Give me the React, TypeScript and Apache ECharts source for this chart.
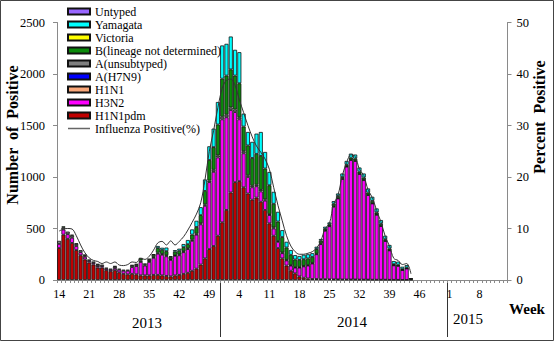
import React, { useEffect, useRef } from "react";
import * as echarts from "echarts";

// Week categories: 2013 wk14 .. 2015 wk14
const weeks: string[] = [
  "14","15","16","17","18","19","20","21","22","23","24","25","26","27","28","29","30","31","32","33","34","35","36","37","38","39","40","41","42","43","44","45","46","47","48","49","50","51","52",
  "1","2","3","4","5","6","7","8","9","10","11","12","13","14","15","16","17","18","19","20","21","22","23","24","25","26","27","28","29","30","31","32","33","34","35","36","37","38","39","40","41","42","43","44","45","46","47","48","49","50","51","52",
  "1","2","3","4","5","6","7","8","9","10","11","12","13","14",
];

const h1n1pdm = [310,440,400,360,290,240,200,170,150,120,120,95,85,95,75,60,55,60,55,45,45,45,50,50,45,40,35,45,50,60,70,90,110,150,210,300,330,430,560,680,850,950,960,900,840,780,800,760,680,550,430,310,210,140,90,65,35,22,15,10,10,8,8,7,6,6,5,5,5,5,4,4,4,3,3,3,3,2,2,2,1,1,0];
const h3n2 = [40,50,45,50,40,30,25,15,15,15,15,15,15,20,25,30,35,65,80,130,95,130,165,205,200,190,160,190,190,210,230,290,330,390,510,650,720,760,1000,900,800,680,600,330,160,120,110,100,90,80,70,60,50,50,50,55,85,110,125,150,240,340,470,515,705,785,975,1095,1160,1150,1025,965,820,740,630,520,375,285,140,135,95,110,3];
const h1n1: number[] = [];
const h7n9: number[] = [];
const aUnsub = [30,20,25,20,20,20,15,15,15,15,15,10,10,15,10,10,10,15,15,15,10,10,10,10,8,10,7,5,9,9,8,11,10,10,15,15,20,20,25,25,25,25,20,20,17,15,15,15,13,10,10,8,7,6,5,5,5,5,5,5,5,5,4,4,5,4,4,3,3,3,3,3,3,3,3,3,3,3,2,2,2,2,0];
const bLineage = [0,10,0,10,5,0,5,0,0,5,0,0,0,5,0,0,0,5,5,25,10,15,20,45,40,40,20,35,35,40,40,50,65,80,130,200,220,300,370,380,370,330,330,240,290,270,300,330,300,280,230,190,150,120,100,75,70,65,65,60,45,30,15,15,25,20,15,15,20,20,20,22,22,22,20,20,15,15,10,10,8,8,10];
const victoria: number[] = [];
const yamagata = [0,0,0,0,0,0,0,0,0,0,0,0,0,0,0,0,0,0,0,0,0,5,5,20,20,35,10,15,20,30,40,50,60,77,111,133,180,218,322,308,319,250,302,125,130,156,196,232,160,129,116,94,67,55,46,42,38,43,40,35,23,15,20,18,25,25,35,38,39,40,40,40,40,40,39,36,34,35,30,29,23,24,3];
const untyped: number[] = [];
const percentPositive = [9.5,9.9,10.0,9.9,8.6,6.8,5.3,4.3,3.8,3.6,3.2,3.5,3.2,3.5,2.9,2.8,3.0,3.5,3.4,4.2,4.0,4.6,5.8,7.2,7.5,6.8,7.6,6.8,7.5,8.4,9.7,11.2,12.8,15.0,19.5,25.0,29.0,33.5,37.2,38.8,39.0,37.8,35.0,32.5,30.0,27.8,26.0,24.8,23.5,21.5,18.0,14.5,11.5,8.6,6.6,5.5,5.0,5.0,5.2,5.5,6.2,7.6,10.0,11.0,14.8,16.5,20.3,22.8,24.3,24.0,21.5,20.3,17.5,16.0,13.5,11.3,8.5,6.6,4.2,3.8,3.0,3.2,1.2];

const yTicksLeft = { min: 0, max: 2500, interval: 500 };
const yTicksRight = { min: 0, max: 50, interval: 10 };
const years = ["2013", "2014", "2015"];

const FONT = "'Liberation Serif', 'Times New Roman', serif";

const barSeries = [
  { name: "H1N1pdm", data: h1n1pdm, color: "#c00000" },
  { name: "H3N2", data: h3n2, color: "#ff00ff" },
  { name: "H1N1", data: h1n1, color: "#f9a77a" },
  { name: "A(H7N9)", data: h7n9, color: "#0000ff" },
  { name: "A(unsubtyped)", data: aUnsub, color: "#808080" },
  { name: "B(lineage not determined)", data: bLineage, color: "#0a8a0a" },
  { name: "Victoria", data: victoria, color: "#ffff00" },
  { name: "Yamagata", data: yamagata, color: "#00ffff" },
  { name: "Untyped", data: untyped, color: "#9966ff" },
];
const lineName = "Influenza Positive(%)";
const legendOrder = ["Untyped", "Yamagata", "Victoria", "B(lineage not determined)", "A(unsubtyped)", "A(H7N9)", "H1N1", "H3N2", "H1N1pdm", lineName];

export default function App() {
  const ref = useRef<HTMLDivElement>(null);
  useEffect(() => {
    const chart = echarts.init(ref.current!, null, { renderer: "svg" });
    const axisGray = "#8a8a8a";
    chart.setOption({
      animation: false,
      backgroundColor: "#fff",
      grid: { left: 57, right: 46.5, top: 22.5, bottom: 62, containLabel: false },
      legend: {
        orient: "vertical",
        left: 67,
        top: 5,
        padding: 0,
        itemGap: 0,
        itemWidth: 22,
        itemHeight: 6,
        selectedMode: false,
        textStyle: { fontFamily: FONT, fontSize: 12, color: "#000", lineHeight: 13 },
        data: legendOrder.map((n) =>
          n === lineName
            ? { name: n, itemStyle: { color: "rgba(0,0,0,0)", borderColor: "rgba(0,0,0,0)", borderWidth: 0 }, lineStyle: { color: "#666", width: 1.5 } }
            : { name: n, icon: "rect" }
        ),
      },
      xAxis: {
        type: "category",
        data: weeks,
        boundaryGap: true,
        axisLine: { show: true, lineStyle: { color: axisGray } },
        axisTick: { show: true, interval: 0, length: 3, lineStyle: { color: axisGray } },
        axisLabel: { interval: 6, fontFamily: FONT, fontSize: 12, color: "#000", margin: 8 },
        splitLine: { show: false },
      },
      yAxis: [
        {
          type: "value",
          ...yTicksLeft,
          axisLine: { show: true, lineStyle: { color: axisGray } },
          axisTick: { show: true, length: 4, lineStyle: { color: axisGray } },
          axisLabel: { fontFamily: FONT, fontSize: 12.5, color: "#000", margin: 12, formatter: (v: number) => String(v) },
          splitLine: { show: false },
        },
        {
          type: "value",
          position: "right",
          ...yTicksRight,
          axisLine: { show: true, lineStyle: { color: axisGray } },
          axisTick: { show: true, length: 4, lineStyle: { color: axisGray } },
          axisLabel: { fontFamily: FONT, fontSize: 12.5, color: "#000", margin: 9, formatter: (v: number) => String(v) },
          splitLine: { show: false },
        },
      ],
      series: [
        ...barSeries.map((s) => ({
          name: s.name,
          type: "bar",
          stack: "flu",
          barCategoryGap: "6%",
          data: s.data.map((v) => (v === 0 ? null : v)),
          itemStyle: { color: s.color, borderColor: "#111", borderWidth: 0.8 },
        })),
        {
          name: lineName,
          type: "line",
          yAxisIndex: 1,
          data: percentPositive,
          symbol: "none",
          smooth: 0.35,
          z: 10,
          itemStyle: { color: "#555" },
          lineStyle: { color: "#333", width: 1 },
        },
      ],
    });

    const xp = (i: number) => chart.convertToPixel({ xAxisIndex: 0 }, i) as number;
    const catW = xp(1) - xp(0);
    const yBase = chart.convertToPixel({ yAxisIndex: 0 }, 0) as number;
    const d2014 = xp(weeks.indexOf("52")) - catW / 2;
    const d2015 = xp(39 + 52) - catW / 2;
    const textBase = { fontFamily: FONT, fill: "#000" };
    chart.setOption({
      graphic: [
        { type: "rect", shape: { x: 0.5, y: 0.5, width: 553, height: 340 }, style: { fill: "none", stroke: "#444", lineWidth: 1 }, silent: true },
        { type: "line", shape: { x1: Math.round(d2014) + 0.5, y1: yBase, x2: Math.round(d2014) + 0.5, y2: 337 }, style: { stroke: "#333", lineWidth: 1 } },
        { type: "line", shape: { x1: Math.round(d2015) + 0.5, y1: yBase, x2: Math.round(d2015) + 0.5, y2: 337 }, style: { stroke: "#333", lineWidth: 1 } },
        { type: "text", x: 147, y: 323, style: { ...textBase, text: years[0], fontSize: 15, textAlign: "center", textVerticalAlign: "middle" } },
        { type: "text", x: 352, y: 322, style: { ...textBase, text: years[1], fontSize: 15, textAlign: "center", textVerticalAlign: "middle" } },
        { type: "text", x: 468, y: 319, style: { ...textBase, text: years[2], fontSize: 15, textAlign: "center", textVerticalAlign: "middle" } },
        { type: "text", x: 527, y: 309, style: { ...textBase, text: "Week", fontSize: 15, fontWeight: "bold", textAlign: "center", textVerticalAlign: "middle" } },
        { type: "text", x: 12, y: 135, rotation: Math.PI / 2, style: { ...textBase, text: "Number  of  Positive", fontSize: 16, fontWeight: "bold", textAlign: "center", textVerticalAlign: "middle" } },
        { type: "text", x: 539, y: 117, rotation: Math.PI / 2, style: { ...textBase, text: "Percent  Positive", fontSize: 16, fontWeight: "bold", textAlign: "center", textVerticalAlign: "middle" } },
      ],
    });
    return () => chart.dispose();
  }, []);
  return <div ref={ref} style={{ position: "fixed", left: 0, top: 0, width: 554, height: 342 }} />;
}
